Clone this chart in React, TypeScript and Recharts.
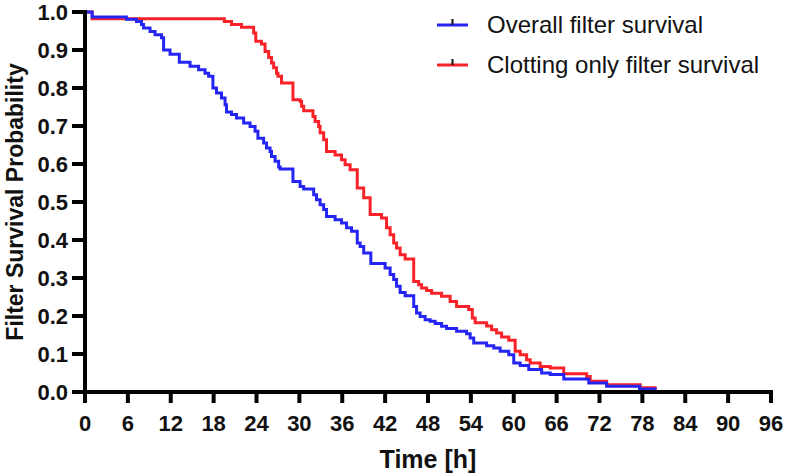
import { LineChart, Line, XAxis, YAxis, Legend } from 'recharts';

// Kaplan-Meier steps: time [h] and survival after each drop.
const overallTime = [
  0, 1.0, 5.8, 7.2, 7.9, 8.2, 9.1, 9.8, 10.7, 11.0, 11.9, 13.2, 14.7, 15.9, 16.8, 17.3,
  17.9, 18.4, 19.1, 19.6, 19.8, 20.5, 21.2, 22.2, 23.1, 23.8, 24.2, 25.0, 25.4, 25.9, 26.1,
  26.6, 27.1, 27.3, 29.1, 30.1, 30.6, 32.0, 32.4, 32.9, 33.4, 33.8, 35.0, 35.9, 36.6, 37.3,
  38.1, 38.5, 39.0, 40.0, 42.0, 42.7, 43.2, 43.6, 44.1, 44.8, 46.0, 46.4, 46.9, 47.6, 48.3,
  49.0, 49.9, 50.6, 52.0, 53.4, 53.9, 54.4, 56.2, 57.2, 58.1, 59.3, 60.0, 60.9, 62.1, 63.9,
  65.1, 67.0, 70.5, 73.0, 77.6, 80.0,
];
const overallSurv = [
  1.0, 0.987, 0.981, 0.975, 0.967, 0.958, 0.949, 0.940, 0.932, 0.900, 0.889, 0.868, 0.857, 0.848, 0.839, 0.831,
  0.800, 0.787, 0.774, 0.756, 0.737, 0.730, 0.721, 0.708, 0.699, 0.686, 0.668, 0.655, 0.642, 0.633, 0.620,
  0.607, 0.592, 0.587, 0.554, 0.541, 0.534, 0.519, 0.506, 0.493, 0.480, 0.462, 0.453, 0.445, 0.432, 0.423,
  0.392, 0.383, 0.366, 0.338, 0.326, 0.309, 0.296, 0.278, 0.262, 0.253, 0.225, 0.208, 0.199, 0.190, 0.186,
  0.180, 0.173, 0.167, 0.160, 0.153, 0.142, 0.129, 0.122, 0.116, 0.107, 0.098, 0.076, 0.070, 0.059, 0.050,
  0.046, 0.034, 0.024, 0.015, 0.008, 0.008,
];

const clottingTime = [
  0, 1.0, 19.5, 20.5, 21.9, 23.6, 23.9, 24.7, 25.2, 25.7, 26.1, 26.4, 26.8, 27.0, 27.5, 29.1,
  30.1, 30.3, 30.6, 31.9, 32.2, 32.7, 32.9, 33.4, 33.8, 35.0, 35.9, 36.4, 37.1, 38.1, 39.0,
  39.9, 41.5, 42.2, 42.7, 43.2, 43.6, 44.1, 44.8, 46.0, 46.7, 47.1, 47.8, 48.5, 49.9, 51.1,
  52.0, 53.7, 54.2, 54.6, 56.2, 56.9, 57.6, 58.3, 59.3, 60.2, 60.9, 61.8, 62.3, 63.7, 65.1,
  67.0, 70.2, 70.7, 73.0, 77.7, 80.0,
];
const clottingSurv = [
  1.0, 0.982, 0.975, 0.967, 0.960, 0.945, 0.923, 0.916, 0.896, 0.880, 0.866, 0.853, 0.839, 0.831, 0.813, 0.769,
  0.765, 0.752, 0.740, 0.725, 0.712, 0.699, 0.682, 0.664, 0.633, 0.624, 0.611, 0.598, 0.585, 0.537, 0.511,
  0.467, 0.458, 0.432, 0.414, 0.392, 0.379, 0.361, 0.350, 0.291, 0.282, 0.274, 0.267, 0.260, 0.252, 0.238,
  0.225, 0.217, 0.195, 0.182, 0.174, 0.164, 0.155, 0.145, 0.136, 0.107, 0.098, 0.085, 0.076, 0.067, 0.063,
  0.048, 0.041, 0.028, 0.019, 0.011, 0.011,
];

const xTicks = [0, 6, 12, 18, 24, 30, 36, 42, 48, 54, 60, 66, 72, 78, 84, 90, 96];
const yTicks = [0, 0.1, 0.2, 0.3, 0.4, 0.5, 0.6, 0.7, 0.8, 0.9, 1.0];

const BLUE = '#2424f4';
const RED = '#fa2229';
const FONT = '"Liberation Sans", Arial, Helvetica, sans-serif';

const LEGEND = [
  { name: 'Overall filter survival', color: BLUE },
  { name: 'Clotting only filter survival', color: RED },
];

const toPoints = (ts: number[], ss: number[]) => ts.map((t, i) => ({ t, s: ss[i] }));
const overall = toPoints(overallTime, overallSurv);
const clotting = toPoints(clottingTime, clottingSurv);

const axisLine = { stroke: '#000', strokeWidth: 4, strokeLinecap: 'square' as const };
const tickLine = { stroke: '#000', strokeWidth: 4 };
const tickText = { fill: '#111', fontSize: 22, fontWeight: 700, fontFamily: FONT };

function YTitle(props: any) {
  const vb = props.viewBox || { x: 0, y: 0, width: 0, height: 0 };
  const cx = vb.x + 15;
  const cy = vb.y + vb.height / 2;
  return (
    <text x={cx} y={cy} dy="0.36em" textAnchor="middle" transform={`rotate(-90 ${cx} ${cy})`}
      fill="#111" fontSize={23} fontWeight={700} fontFamily={FONT}>
      Filter Survival Probability
    </text>
  );
}

function XTitle(props: any) {
  const vb = props.viewBox || { x: 0, y: 0, width: 0, height: 0 };
  return (
    <text x={vb.x + vb.width / 2} y={vb.y + 67} dy="0.36em" textAnchor="middle"
      fill="#111" fontSize={25} fontWeight={700} fontFamily={FONT}>
      Time [h]
    </text>
  );
}

function LegendBox() {
  return (
    <div style={{ fontFamily: FONT }}>
      {LEGEND.map(item => (
        <div key={item.name} style={{ display: 'flex', alignItems: 'center', height: 40 }}>
          <svg width={31} height={14} style={{ marginRight: 19, flex: 'none' }}>
            <line x1={0} y1={7} x2={31} y2={7} stroke={item.color} strokeWidth={3} />
            <line x1={15.5} y1={1} x2={15.5} y2={7} stroke="#111" strokeWidth={2} />
          </svg>
          <span style={{ fontSize: 24, color: '#111', whiteSpace: 'nowrap' }}>{item.name}</span>
        </div>
      ))}
    </div>
  );
}

export default function App() {
  return (
    <div style={{ position: 'absolute', left: 0, top: 0, background: '#fff' }}>
      <LineChart width={785} height={476} margin={{ top: 12, right: 14, bottom: 0, left: 0 }}>
        <XAxis
          type="number" dataKey="t" domain={[0, 96]} ticks={xTicks} interval={0}
          height={84} tickSize={11} tickMargin={12}
          axisLine={axisLine} tickLine={tickLine} tick={tickText}
          label={<XTitle />}
        />
        <YAxis
          type="number" dataKey="s" domain={[0, 1]} ticks={yTicks} interval={0}
          width={85} tickSize={13} tickMargin={4}
          axisLine={axisLine} tickLine={tickLine} tick={tickText}
          tickFormatter={(v: number) => v.toFixed(1)}
          label={<YTitle />}
        />
        <Legend
          layout="horizontal" verticalAlign="middle" align="center"
          content={() => <LegendBox />}
          wrapperStyle={{ left: 437, top: 5, width: 345, height: 80 }}
        />
        <Line data={clotting} dataKey="s" type="stepAfter" stroke={RED} strokeWidth={3}
          dot={false} activeDot={false} isAnimationActive={false} name="Clotting only filter survival" />
        <Line data={overall} dataKey="s" type="stepAfter" stroke={BLUE} strokeWidth={3}
          dot={false} activeDot={false} isAnimationActive={false} name="Overall filter survival" />
      </LineChart>
    </div>
  );
}
